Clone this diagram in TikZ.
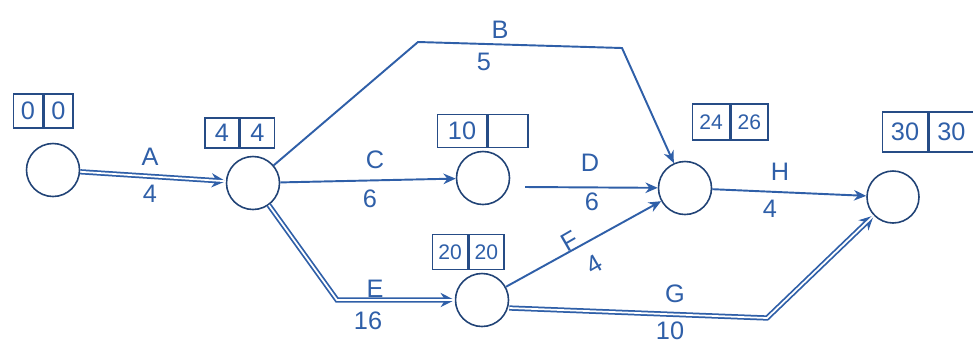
\documentclass[tikz,border=0pt]{standalone}
\usepackage{fontspec}
\setmainfont{Liberation Sans}
\usetikzlibrary{arrows.meta}
\definecolor{ink}{HTML}{2F5FA8}
\newlength{\pxu}\setlength{\pxu}{0.02cm}
\tikzset{
  ev/.style={circle,draw=ink!70!black,line width=0.9pt,minimum size=53\pxu,inner sep=0pt},
  act/.style={draw=ink,line width=1.1pt,-{Stealth[length=7pt,width=6pt]}},
  dact/.style={draw=ink,line width=3pt,-{Stealth[length=8pt,width=8pt]},postaction={draw=white,line width=1pt,-{}}},
  lbl/.style={text=ink,font=\Large},
  cell/.style={draw=ink!80!black,line width=0.8pt,inner sep=1pt,text=ink,font=\Large},
}
\begin{document}
\begin{tikzpicture}[x=0.02cm,y=-0.02cm]
\useasboundingbox (0,0) rectangle (973,343);
% events
\node[ev] (n1) at (53,170) {};
\node[ev] (n2) at (253,183) {};
\node[ev] (n3) at (483,178) {};
\node[ev] (n4) at (685,188) {};
\node[ev,minimum size=52\pxu] (n5) at (893,197) {};
\node[ev] (n6) at (482,300) {};
% time boxes
\node[cell,minimum width=29\pxu,minimum height=34\pxu] (b1a) at (28,111) {0};
\node[cell,minimum width=29\pxu,minimum height=34\pxu,anchor=west] (b1b) at (b1a.east) {0};
\node[cell,minimum width=34\pxu,minimum height=30\pxu] (b2a) at (222,133) {4};
\node[cell,minimum width=34\pxu,minimum height=30\pxu,anchor=west] (b2b) at (b2a.east) {4};
\node[cell,minimum width=49\pxu,minimum height=33\pxu] (b3a) at (462,131) {10};
\node[cell,minimum width=40\pxu,minimum height=33\pxu,anchor=west] (b3b) at (b3a.east) {};
\node[cell,minimum width=35\pxu,minimum height=35\pxu,font=\large] (b6a) at (450,252) {20};
\node[cell,minimum width=35\pxu,minimum height=35\pxu,font=\large,anchor=west] (b6b) at (b6a.east) {20};
\node[cell,minimum width=37\pxu,minimum height=36\pxu,font=\large] (b4a) at (711,122) {24};
\node[cell,minimum width=37\pxu,minimum height=36\pxu,font=\large,anchor=west] (b4b) at (b4a.east) {26};
\node[cell,minimum width=45\pxu,minimum height=40\pxu] (b5a) at (905,132) {30};
\node[cell,minimum width=45\pxu,minimum height=40\pxu,anchor=west] (b5b) at (b5a.east) {30};
% bend points
\coordinate (bB1) at (418,42);
\coordinate (bB2) at (622,48);
\coordinate (bE) at (337,300);
\coordinate (bG) at (767,318);
\coordinate (dS) at (525,187);
% activities
\draw[dact] (n1) -- (n2);
\draw[act] (n2) -- (bB1) -- (bB2) -- (n4);
\draw[act] (n2) -- (n3);
\draw[act] (dS) -- (n4);
\draw[dact] (n2) -- (bE) -- (n6);
\draw[act] (n6) -- (n4);
\draw[dact] (n6.east) ++(0,8) -- (bG) -- (n5);
\draw[act] (n4) -- (n5);
% labels
\node[lbl] (lA) at (150,157) {A};
\node[lbl] (lA2) at (150,194) {4};
\node[lbl] (lB) at (500,30) {B};
\node[lbl] (lB2) at (484,62) {5};
\node[lbl] (lC) at (375,160) {C};
\node[lbl] (lC2) at (370,199) {6};
\node[lbl] (lD) at (590,163) {D};
\node[lbl] (lD2) at (592,202) {6};
\node[lbl] (lE) at (375,289) {E};
\node[lbl] (lE2) at (368,321) {16};
\node[lbl,rotate=30] (lF) at (570,241) {F};
\node[lbl,rotate=30] (lF2) at (594,264) {4};
\node[lbl] (lG) at (675,294) {G};
\node[lbl] (lG2) at (670,331) {10};
\node[lbl] (lH) at (780,172) {H};
\node[lbl] (lH2) at (770,209) {4};
\end{tikzpicture}
\end{document}
